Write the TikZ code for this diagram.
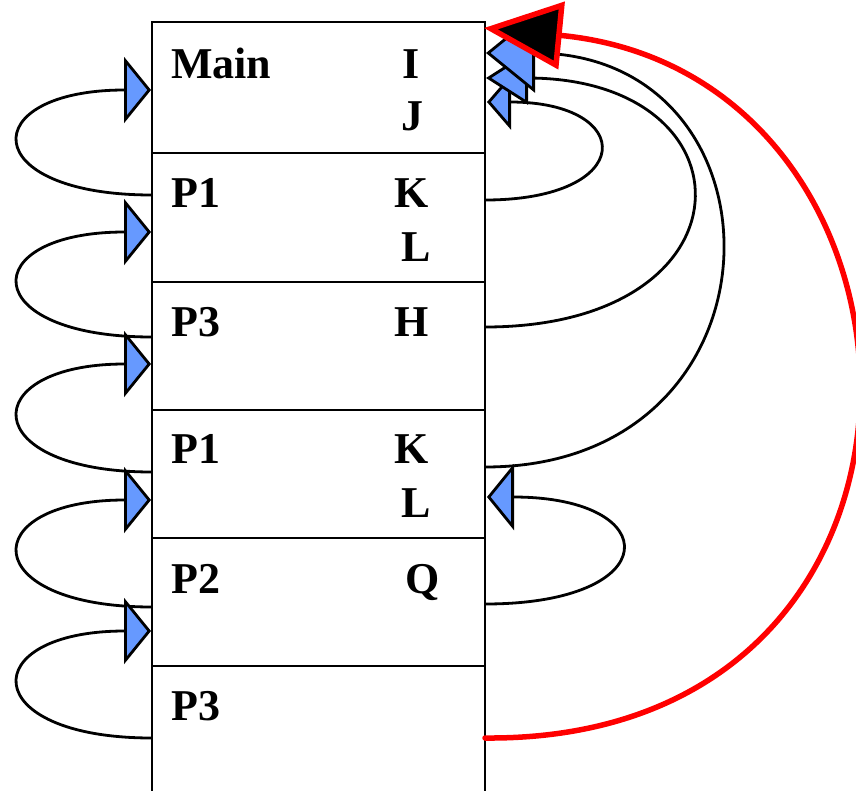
\documentclass[tikz,border=0pt]{standalone}
\usepackage{fontspec}
\setmainfont{Liberation Serif}
\usetikzlibrary{arrows.meta}
\definecolor{linkblue}{RGB}{102,153,255}
\tikzset{
  frame/.style={draw,line width=2.8pt,minimum width=333pt,inner sep=0pt,outer sep=0pt,anchor=north west},
  fname/.style={font=\fontsize{44}{50}\selectfont\bfseries,anchor=base west,inner sep=0pt},
  fvar/.style={font=\fontsize{44}{50}\selectfont\bfseries,anchor=base,inner sep=0pt},
  link/.style 2 args={line width=2.8pt,-{Triangle[length=#1,width=#2,fill=linkblue]}},
  ret/.style={red,line width=5.5pt,line cap=round,-{Triangle[length=78pt,width=67pt,fill=black]}}
}
\begin{document}
\begin{tikzpicture}[x=1pt,y=-1pt]
\useasboundingbox (0,0) rectangle (856,790);
% stack frames
\node[frame,minimum height=131pt] (fMain) at (152,22) {};
\node[frame,minimum height=129pt] (fPa) at (152,153) {};
\node[frame,minimum height=128pt] (fPb) at (152,282) {};
\node[frame,minimum height=128pt] (fPc) at (152,410) {};
\node[frame,minimum height=128pt] (fPd) at (152,538) {};
\node[frame,minimum height=150pt] (fPe) at (152,666) {};

% frame texts
\node[fname] (nMain) at (171,78) {Main};
\node[fvar] (vI) at (411,78) {I};
\node[fvar] (vJ) at (412,130) {J};
\node[fname] (nPa) at (171,207) {P1};
\node[fvar] (vKa) at (412,207) {K};
\node[fvar] (vLa) at (416,261) {L};
\node[fname] (nPb) at (171,336) {P3};
\node[fvar] (vH) at (412,336) {H};
\node[fname] (nPc) at (171,463) {P1};
\node[fvar] (vKc) at (412,463) {K};
\node[fvar] (vLc) at (416,517) {L};
\node[fname] (nPd) at (171,593) {P2};
\node[fvar] (vQ) at (423,593) {Q};
\node[fname] (nPe) at (171,720) {P3};

% left wall
\coordinate (dMain) at (151,90);
\coordinate (dPa) at (151,232);
\coordinate (dPb) at (151,364);
\coordinate (dPc) at (151,500);
\coordinate (dPd) at (151,631);
\coordinate (cPa) at (152,195);
\coordinate (cPb) at (152,337);
\coordinate (cPc) at (152,472);
\coordinate (cPd) at (152,607);
\coordinate (cPe) at (152,738);
% right wall
\coordinate (sKa) at (485,200);
\coordinate (sH) at (485,327);
\coordinate (sKc) at (485,467);
\coordinate (sQ) at (485,604);
\coordinate (sPe) at (485,738);
\coordinate (tJ) at (487,102);
\coordinate (tIb) at (486,78);
\coordinate (tIa) at (486,53);
\coordinate (tMain) at (484,28);
\coordinate (tL) at (487,497);

\foreach \a/\b in {cPa/dMain,cPb/dPa,cPc/dPb,cPd/dPc,cPe/dPd}
  \draw[link={27pt}{66pt}] (\a) .. controls +(-176,0) and +(-176,0) .. (\b);

\draw[link={27pt}{66pt}] (sQ) .. controls +(181,0) and +(179,0) .. (tL);
\draw[link={24pt}{55pt}] (sKa) .. controls +(152,0) and +(150,0) .. (tJ);
\draw[link={42pt}{53pt}] (sH) .. controls +(273,0) and +(272,0) .. (tIb);
\draw[link={49pt}{79pt}] (sKc) .. controls +(310,0) and +(309,0) .. (tIa);
\draw[ret] (sPe) .. controls +(500,4) and +(476,46) .. (tMain);
\end{tikzpicture}
\end{document}
